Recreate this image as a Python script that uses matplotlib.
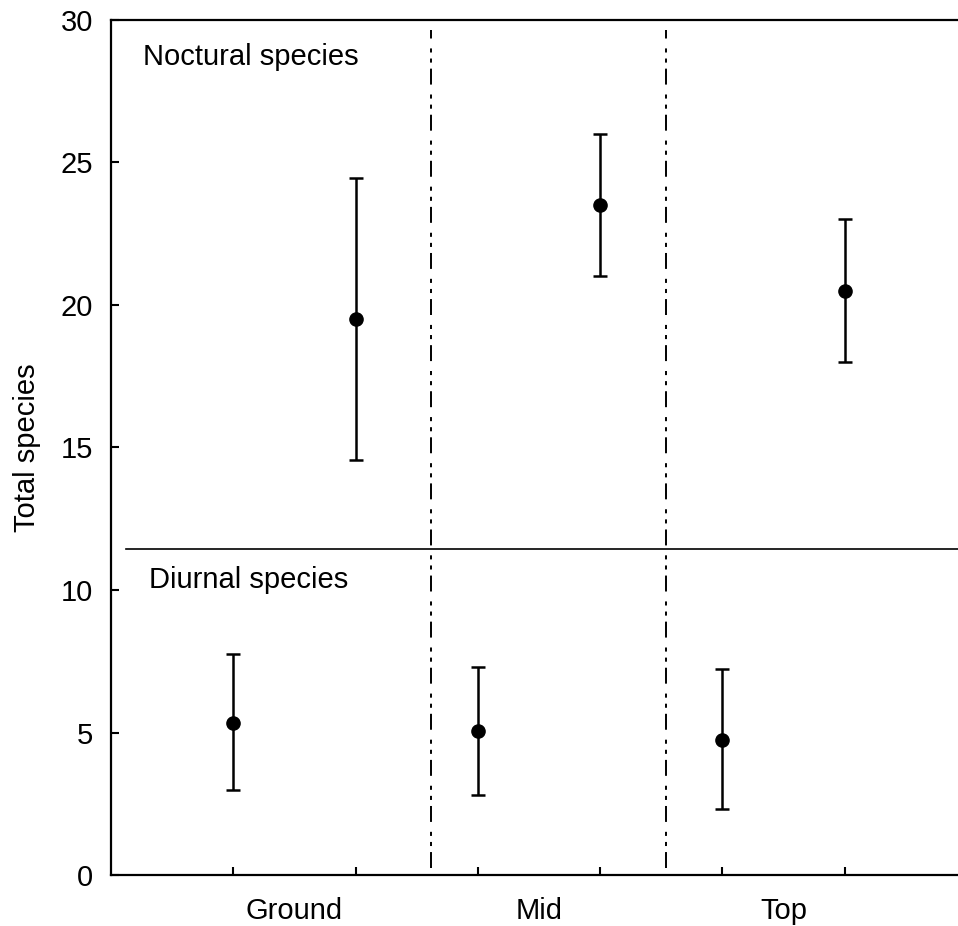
import numpy as np
import matplotlib
matplotlib.use("Agg")
import matplotlib.pyplot as plt

plt.rcParams['font.family'] = ['Liberation Sans', 'DejaVu Sans']

levels = ['Ground', 'Mid', 'Top']

# diurnal species (lower panel)
diurnal_mean = [5.35, 5.05, 4.75]
diurnal_low = [3.0, 2.8, 2.3]
diurnal_high = [7.75, 7.3, 7.22]

# nocturnal species (upper panel)
nocturnal_mean = [19.5, 23.5, 20.5]
nocturnal_low = [14.55, 21.0, 18.0]
nocturnal_high = [24.45, 26.0, 23.0]

diurnal_x = [1, 3, 5]
nocturnal_x = [2, 4, 6]
label_x = [1.5, 3.5, 5.5]

fig = plt.figure(figsize=(9.58, 9.26), dpi=100)
ax = fig.add_axes([111/958, 51/926, 856/958, 855/926])

def draw(xs, mean, low, high):
    mean = np.array(mean)
    err = [mean - np.array(low), np.array(high) - mean]
    ax.errorbar(xs, mean, yerr=err, fmt='o', color='black', ms=9.5,
                elinewidth=1.8, capsize=4.8, capthick=1.8, zorder=3)

draw(diurnal_x, diurnal_mean, diurnal_low, diurnal_high)
draw(nocturnal_x, nocturnal_mean, nocturnal_low, nocturnal_high)

# dividers
for xv in [2.62, 4.54]:
    ax.plot([xv, xv], [0.25, 29.65], color='black', lw=1.4,
            dashes=(8.2, 3.1, 2.1, 3.1, 2.1, 5.1))
ax.plot([0.12, 7], [11.44, 11.44], color='black', lw=1.2)

ax.text(0.26, 28.42, 'Noctural species', fontsize=21, ha='left', va='baseline')
ax.text(0.31, 10.07, 'Diurnal species', fontsize=21, ha='left', va='baseline')

ax.set_xlim(0, 7)
ax.set_ylim(0, 30)
ax.set_yticks([0, 5, 10, 15, 20, 25, 30])
ax.set_xticks([1, 2, 3, 4, 5, 6])
ax.set_xticklabels([])
ax.set_xticks(label_x, minor=True)
ax.set_xticklabels(levels, minor=True)
ax.tick_params(axis='x', which='minor', length=0, labelsize=21, pad=16)
ax.tick_params(axis='both', which='major', direction='in', length=6, width=1.5,
               labelsize=21)
ax.tick_params(axis='y', pad=13)
ax.set_ylabel('Total species', fontsize=21, labelpad=14)
for s in ax.spines.values():
    s.set_linewidth(1.6)

fig.savefig('out.png', dpi=100)
